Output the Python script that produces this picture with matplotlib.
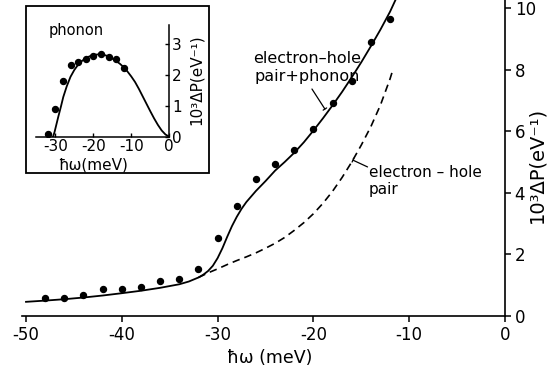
import matplotlib
matplotlib.use("Agg")
import matplotlib.pyplot as plt
from matplotlib.patches import Rectangle

plt.rcParams['font.family'] = ['DejaVu Sans']

# ---- main panel data ----
dot_x = [-48, -46, -44, -42, -40, -38, -36, -34, -32, -30, -28, -26, -24, -22, -20, -18, -16, -14, -12]
dot_y = [0.57, 0.59, 0.68, 0.87, 0.88, 0.94, 1.13, 1.20, 1.52, 2.52, 3.58, 4.46, 4.94, 5.38, 6.06, 6.93, 7.63, 8.90, 9.64]

total_x = [-50, -48, -46, -44, -42, -40, -38, -36, -34, -33, -32, -31.5, -31, -30.5, -30, -29.5, -29,
           -28.5, -28, -27.5, -27, -26, -25, -24, -23, -22, -21, -20, -19, -18, -17, -16, -15, -14,
           -13, -12, -11.3]
total_y = [0.46, 0.50, 0.545, 0.60, 0.665, 0.74, 0.82, 0.915, 1.03, 1.12, 1.25, 1.34, 1.46, 1.63, 1.88,
           2.20, 2.57, 2.92, 3.22, 3.48, 3.70, 4.06, 4.38, 4.72, 5.00, 5.30, 5.64, 6.02, 6.42, 6.84,
           7.28, 7.75, 8.24, 8.76, 9.30, 9.88, 10.35]

eh_x = [-32, -31, -30, -29, -28, -27, -26, -25, -24, -23, -22, -21, -20, -19, -18, -17, -16, -15,
        -14, -13, -12, -11.7]
eh_y = [1.25, 1.40, 1.53, 1.67, 1.80, 1.92, 2.05, 2.20, 2.36, 2.55, 2.78, 3.03, 3.32, 3.66, 4.05,
        4.50, 5.00, 5.55, 6.15, 6.85, 7.70, 8.00]

main_xticks = [-50, -40, -30, -20, -10, 0]
main_yticks = [0, 2, 4, 6, 8, 10]

# ---- inset (phonon) data ----
ph_dot_x = [-32, -30, -28, -26, -24, -22, -20, -18, -16, -14, -12]
ph_dot_y = [0.10, 0.89, 1.80, 2.30, 2.40, 2.50, 2.60, 2.65, 2.57, 2.50, 2.20]

ph_x = [-30.6, -30.2, -29.7, -29.2, -28.5, -27.9, -27, -26, -25, -24, -23, -22, -21, -20, -19, -18,
        -17, -16, -15, -14, -13, -12, -11, -10, -9, -8, -7, -6, -5, -4, -3, -2, -1, 0]
ph_y = [0.0, 0.15, 0.40, 0.65, 0.98, 1.28, 1.62, 1.93, 2.15, 2.32, 2.44, 2.53, 2.59, 2.63, 2.65, 2.65,
        2.63, 2.59, 2.52, 2.44, 2.35, 2.24, 2.10, 1.94, 1.76, 1.54, 1.30, 1.06, 0.82, 0.59, 0.38,
        0.20, 0.07, 0.0]

inset_xticks = [-30, -20, -10, 0]
inset_yticks = [0, 1, 2, 3]

W, H = 550, 373
fig = plt.figure(figsize=(5.5, 3.73), dpi=100)

def fx(px):
    return px / W

def fy(py):
    return 1 - py / H

# main axes
ax = fig.add_axes([fx(21.7), fy(316), fx(505) - fx(21.7), fy(0) - fy(316)])
ax.set_xlim(-50.45, 0)
ax.set_ylim(0, 10.26)
for s in ['left', 'top']:
    ax.spines[s].set_visible(False)
for s in ['bottom', 'right']:
    ax.spines[s].set_linewidth(1.2)
ax.yaxis.tick_right()
ax.set_xticks(main_xticks)
ax.set_yticks(main_yticks)
ax.tick_params(direction='out', length=4, width=1.1, labelsize=12, pad=3)
ax.set_xticklabels([str(v) for v in main_xticks])
ax.set_yticklabels([str(v) for v in main_yticks])

ax.plot(total_x, total_y, color='black', lw=1.3, solid_joinstyle='round')
ax.plot(eh_x, eh_y, color='black', lw=1.2, dashes=(4.5, 3))
ax.plot(dot_x, dot_y, 'o', color='black', ms=4.3)

ax.text(-20.67, 8.07, 'electron–hole\npair+phonon', ha='center', va='center',
        fontsize=11.5, linespacing=1.2)
ax.annotate('', xy=(-18.8, 6.72), xytext=(-20.15, 7.37),
            arrowprops=dict(arrowstyle='-[, widthB=0.15, lengthB=0.0', lw=0.9, color='black',
                            shrinkA=0, shrinkB=0))
ax.text(-14.2, 4.38, 'electron – hole\npair', ha='left', va='center',
        fontsize=11, linespacing=1.2)
ax.annotate('', xy=(-15.87, 5.06), xytext=(-14.35, 4.84),
            arrowprops=dict(arrowstyle='-[, widthB=0.15, lengthB=0.0', lw=0.9, color='black',
                            shrinkA=0, shrinkB=0))

fig.text(fx(270), fy(358), 'ħω (meV)', ha='center', va='center', fontsize=12.5)
fig.text(fx(537), fy(165), '10³ΔP(eV⁻¹)', ha='center', va='center', rotation=90, fontsize=14)

# inset frame
rect = Rectangle((fx(26), fy(173)), fx(209) - fx(26), fy(6) - fy(173), transform=fig.transFigure,
                 facecolor='white', edgecolor='black', lw=1.3, zorder=1)
fig.patches.append(rect)

# inset axes
axi = fig.add_axes([fx(36.3), fy(136.7), fx(169.3) - fx(36.3), fy(25) - fy(136.7)], zorder=2)
axi.patch.set_alpha(0)
axi.set_xlim(-35, 0)
axi.set_ylim(0, 3.6)
for s in ['left', 'top']:
    axi.spines[s].set_visible(False)
for s in ['bottom', 'right']:
    axi.spines[s].set_linewidth(1.1)
axi.yaxis.tick_right()
axi.set_xticks(inset_xticks)
axi.set_yticks(inset_yticks)
axi.set_xticklabels([str(v) for v in inset_xticks])
axi.set_yticklabels([str(v) for v in inset_yticks])
axi.tick_params(direction='in', length=3, width=1.0, labelsize=11)
axi.tick_params(axis='x', pad=2)
axi.tick_params(axis='y', pad=2)
axi.plot(ph_x, ph_y, color='black', lw=1.3, solid_joinstyle='round')
axi.plot(ph_dot_x, ph_dot_y, 'o', color='black', ms=4.3)

fig.text(fx(76), fy(30), 'phonon', ha='center', va='center', fontsize=10.5, zorder=3)
fig.text(fx(93), fy(165), 'ħω(meV)', ha='center', va='center', fontsize=11, zorder=3)
fig.text(fx(196), fy(80), '10³ΔP(eV⁻¹)', ha='center', va='center', rotation=90, fontsize=11, zorder=3)

fig.savefig('out.png', dpi=100)
